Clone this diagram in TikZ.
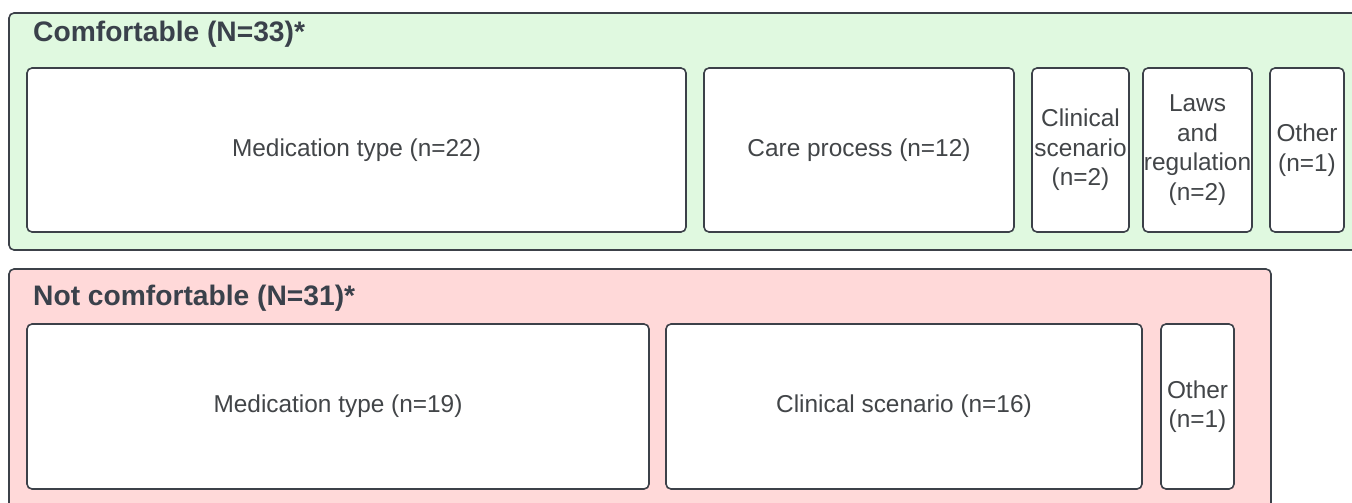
\documentclass[tikz,border=0pt]{standalone}
\usepackage{fontspec}
\setmainfont{Liberation Sans}
\usetikzlibrary{positioning}

\definecolor{edgegray}{HTML}{3C4149}
\definecolor{titlegray}{HTML}{3A414B}
\definecolor{textgray}{HTML}{424548}
\definecolor{okgreen}{HTML}{E0F9E0}
\definecolor{notpink}{HTML}{FFD9D9}

\begin{document}
\begin{tikzpicture}[x=1pt, y=-1pt,
    panel/.style={rectangle, rounded corners=5pt, draw=edgegray, line width=1.6pt,
        inner sep=0pt},
    theme/.style={rectangle, rounded corners=5pt, draw=edgegray, line width=1.6pt,
        fill=white, inner sep=0pt, align=center, text=textgray,
        font=\fontsize{24.4}{29.5}\selectfont},
    heading/.style={anchor=west, inner sep=0pt, text=titlegray,
        font=\fontsize{28.2}{34}\selectfont\bfseries}
]

\clip (0,0) rectangle (1352,503);

% --- Paneles ---
\node[panel, fill=okgreen, minimum width=1356pt, minimum height=237pt] (comf) at (687,131.5) {};
\node[panel, fill=notpink, minimum width=1262pt, minimum height=246pt] (notcomf) at (640,392) {};

\node[heading] (comfTitle) at (33,34) {Comfortable (N=33)*};
\node[heading] (notcomfTitle) at (33,298) {Not comfortable (N=31)*};

% --- Comfortable ---
\node[theme, minimum width=659pt, minimum height=164pt] (medA) at (356.5,150) {Medication type (n=22)};
\node[theme, minimum width=310pt, minimum height=164pt] (care) at (859,150) {Care process (n=12)};
\node[theme, minimum width=97pt, minimum height=164pt] (clinA) at (1080.5,150) {Clinical\\scenario\\(n=2)};
\node[theme, minimum width=109pt, minimum height=164pt] (laws) at (1197.5,150) {Laws\\and\\regulation\\(n=2)};
\node[theme, minimum width=74pt, minimum height=164pt] (otherA) at (1307,150) {Other\\(n=1)};

% --- Not comfortable ---
\node[theme, minimum width=622pt, minimum height=165pt] (medB) at (338,406.5) {Medication type (n=19)};
\node[theme, minimum width=476pt, minimum height=165pt] (clinB) at (904,406.5) {Clinical scenario (n=16)};
\node[theme, minimum width=73pt, minimum height=165pt] (otherB) at (1197.5,406.5) {Other\\(n=1)};

\end{tikzpicture}
\end{document}
